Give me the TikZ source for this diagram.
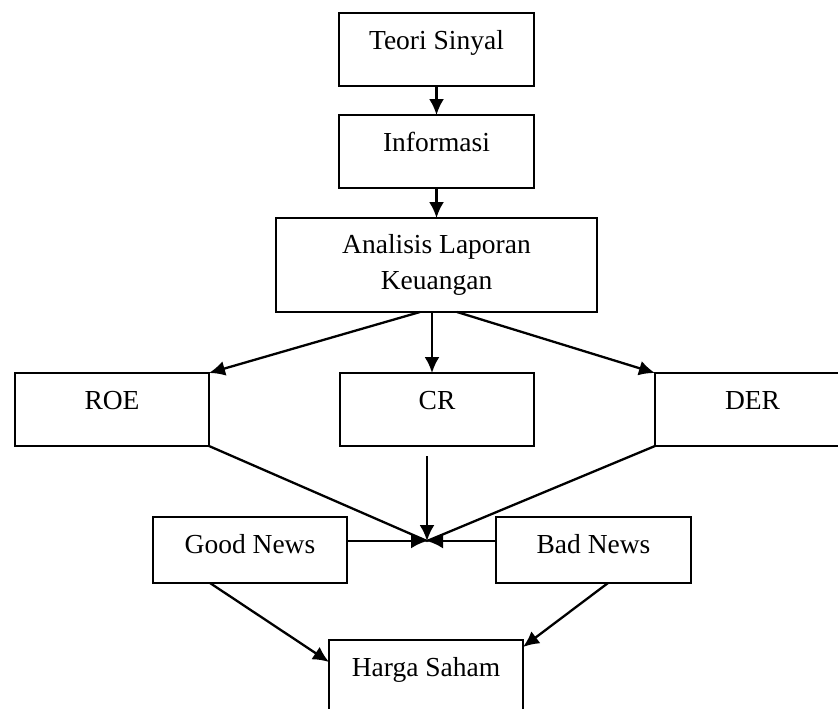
\documentclass[tikz,border=0pt]{standalone}
\usepackage{fontspec}
\setmainfont{Liberation Serif}
\usetikzlibrary{arrows.meta}
\tikzstyle{kotak}=[
	rectangle,
	draw=black,
	line width=1.6pt,
	inner sep=0pt,
	outer sep=0pt,
	anchor=north,
	minimum width=195pt,
	text height=36pt,
	text depth=37pt,
	font=\fontsize{27.5}{36}\selectfont
]
\tikzstyle{kotakLebar}=[
	rectangle,
	draw=black,
	line width=1.6pt,
	inner sep=0pt,
	outer sep=0pt,
	align=center,
	minimum width=321pt,
	minimum height=94pt,
	font=\fontsize{27.5}{36}\selectfont
]
\tikzstyle{alur}=[
	-{Latex[length=16pt,width=15pt]},
	line width=2.3pt
]
\tikzstyle{garis}=[
	line width=2.3pt
]

\begin{document}
\begin{tikzpicture}[x=1pt,y=-1pt]
\useasboundingbox (0,0) rectangle (838,709);
\clip (0,0) rectangle (838,709);
\node [kotak] (TeoriSinyal) at (436.5,13) {Teori Sinyal};
\node [kotak] (Informasi) at (436.5,115) {Informasi};
\node [kotakLebar] (Analisis) at (436.5,265) {Analisis Laporan\\Keuangan};
\node [kotak, minimum width=194pt] (ROE) at (112,373) {ROE};
\node [kotak, minimum width=194pt] (CR) at (437,373) {CR};
\node [kotak] (DER) at (752.5,373) {DER};
\node [kotak, minimum width=194pt, text depth=30pt] (GoodNews) at (250,517) {Good News};
\node [kotak, text depth=30pt] (BadNews) at (593.5,517) {Bad News};
\node [kotak, minimum width=194pt] (HargaSaham) at (426,640) {Harga Saham};
\coordinate (Temu) at (427,541);

\draw [alur] (TeoriSinyal) -- (Informasi);
\draw [alur] (Informasi) -- (Analisis);
\draw [alur] ([xshift=-16.5pt]Analisis.south) -- (ROE.north east);
\draw [alur] ([xshift=-4.5pt]Analisis.south) -- ([xshift=-4.5pt]Analisis.south |- CR.north);
\draw [alur] ([xshift=20.5pt]Analisis.south) -- (DER.north west);
\draw [garis] (ROE.south east) -- (Temu);
\draw [garis] (DER.south west) -- (Temu);
\draw [alur] ([xshift=-10pt,yshift=-10pt]CR.south) -- (Temu);
\draw [alur] (GoodNews.east |- Temu) -- (Temu);
\draw [alur] (BadNews.west |- Temu) -- (Temu);
\draw [alur] ([xshift=-40pt]GoodNews.south) -- ([yshift=-22pt]HargaSaham.north west);
\draw [alur] ([xshift=14.5pt]BadNews.south) -- ([yshift=-7pt]HargaSaham.north east);
\end{tikzpicture}
\end{document}
